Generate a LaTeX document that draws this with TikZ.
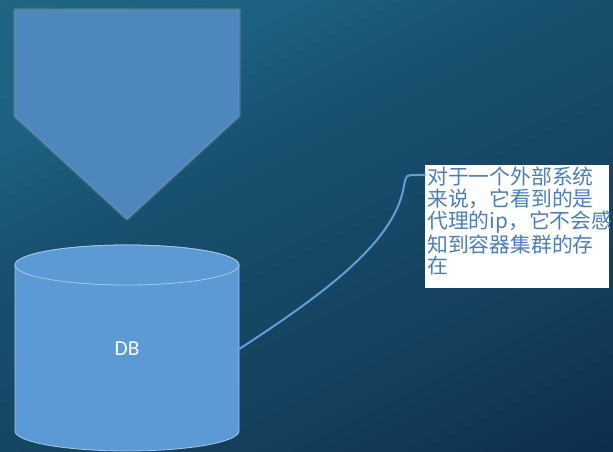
\documentclass[tikz,border=0pt]{standalone}
\usepackage{fontspec}
\setsansfont{Carlito}
\newfontfamily\cjkfont{Noto Sans CJK SC}
\usetikzlibrary{calc}

\definecolor{bgA}{HTML}{1F6682}
\definecolor{bgB}{HTML}{1D6180}
\definecolor{bgC}{HTML}{1A5575}
\definecolor{bgD}{HTML}{174E6C}
\definecolor{bgE}{HTML}{14405E}
\definecolor{bgF}{HTML}{0E2D4C}
\definecolor{arrowFill}{HTML}{4E87BD}
\definecolor{arrowEdge}{HTML}{7193B4}
\definecolor{dbFill}{HTML}{5B9AD5}
\definecolor{dbEdge}{HTML}{A9C6E2}
\definecolor{linkBlue}{HTML}{629FD8}
\definecolor{noteText}{HTML}{4A7EBB}

% diagonal colour ramp for the backdrop (light upper left, dark lower right)
\pgfdeclarehorizontalshading{bgramp}{580bp}{%
  color(0bp)=(bgA); color(100bp)=(bgB); color(159bp)=(bgC);
  color(208bp)=(bgD); color(376bp)=(bgE); color(512bp)=(bgF)}

\tikzset{
  downarrow/.style={fill=arrowFill, draw=arrowEdge, line width=0.6pt, line join=miter},
  glow/.style={draw=white, draw opacity=0.12, line width=3pt, line join=round},
  dbbody/.style={fill=dbFill, draw=dbEdge, line width=0.6pt},
  dblabel/.style={font=\sffamily\fontsize{16}{18}\selectfont, text=white,
    minimum width=168pt, inner sep=0pt},
  note/.style={fill=white, inner sep=1.5pt, text=noteText,
    font=\cjkfont\fontsize{15.6}{16.3}\selectfont},
  link/.style={draw=linkBlue, line width=1.5pt, line cap=round}
}

\begin{document}
\begin{tikzpicture}[x=0.75pt, y=-0.75pt]
  \useasboundingbox (0,0) rectangle (613,452);
  % backdrop
  \begin{scope}
    \clip (0,0) rectangle (613,452);
    \node[inner sep=0pt, rotate=-63.43] (backdrop) at (306.5,226) {\pgfuseshading{bgramp}};
  \end{scope}

  % downward arrow block
  \draw[glow] (15,10) -- (239,10) -- (239,116) -- (127,219) -- (15,116) -- cycle;
  \draw[downarrow] (15,10) -- (239,10) -- (239,116) -- (127,219) -- (15,116) -- cycle;

  % database cylinder
  \filldraw[dbbody] (15,265) -- (15,431)
    arc[start angle=180, end angle=360, x radius=84pt, y radius=15pt]
    -- (239,265)
    arc[start angle=0, end angle=180, x radius=84pt, y radius=15pt] -- cycle;
  \draw[dbbody] (127,265) ellipse[x radius=84pt, y radius=15pt];
  \node[dblabel] (db) at (127,349) {DB};

  % callout note
  \node[note, anchor=north west] (note) at (425,165)
    {\parbox[t][89pt][t]{135pt}{%
      对于一个外部系统\\
      来说，它看到的是\\
      代理的ip，它不会感\\
      知到容器集群的存\\
      在}};

  % leader from the database to the note
  \coordinate (hook) at ($(note.north west)+(0,10)$);
  \draw[link] (db.east) .. controls (330,290) and (395,240) .. (404,186)
    .. controls (406,175) .. (416,175) -- (hook);
\end{tikzpicture}
\end{document}
